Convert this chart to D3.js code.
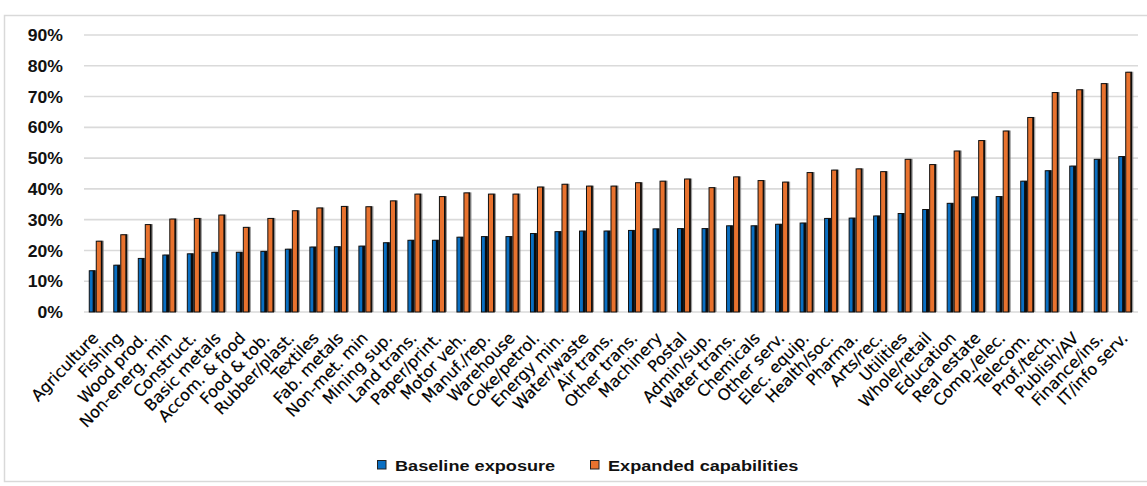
<!DOCTYPE html>
<html>
<head>
<meta charset="utf-8">
<script src="https://cdn.jsdelivr.net/npm/d3@7/dist/d3.min.js"></script>
<style>
  html, body { margin: 0; padding: 0; background: #fff; }
  svg { display: block; }
</style>
</head>
<body>
<svg id="chart" width="1147" height="486"></svg>
<script>
// Sector labels, sorted by baseline exposure
const categories = [
  "Agriculture", "Fishing", "Wood prod.", "Non-energ. min", "Construct.",
  "Basic metals", "Accom. & food", "Food & tob.", "Rubber/plast.", "Textiles",
  "Fab. metals", "Non-met. min", "Mining sup.", "Land trans.", "Paper/print.",
  "Motor veh.", "Manuf./rep.", "Warehouse", "Coke/petrol.", "Energy min.",
  "Water/waste", "Air trans.", "Other trans.", "Machinery", "Postal",
  "Admin/sup.", "Water trans.", "Chemicals", "Other serv.", "Elec. equip.",
  "Health/soc.", "Pharma.", "Arts/rec.", "Utilities", "Whole/retail",
  "Education", "Real estate", "Comp./elec.", "Telecom.", "Prof./tech.",
  "Publish/AV", "Finance/ins.", "IT/info serv."
];

const baselineExposure = [
  0.134, 0.152, 0.174, 0.185, 0.189, 0.194, 0.194, 0.197, 0.204, 0.211,
  0.212, 0.214, 0.225, 0.233, 0.233, 0.243, 0.245, 0.245, 0.255, 0.261,
  0.263, 0.263, 0.265, 0.270, 0.271, 0.271, 0.280, 0.280, 0.285, 0.289,
  0.304, 0.305, 0.312, 0.320, 0.333, 0.353, 0.374, 0.375, 0.425, 0.459,
  0.474, 0.496, 0.505
];

const expandedCapabilities = [
  0.230, 0.251, 0.284, 0.302, 0.304, 0.315, 0.275, 0.304, 0.329, 0.338,
  0.343, 0.342, 0.361, 0.383, 0.375, 0.387, 0.383, 0.383, 0.406, 0.415,
  0.409, 0.409, 0.420, 0.425, 0.432, 0.404, 0.439, 0.427, 0.422, 0.453,
  0.461, 0.465, 0.456, 0.496, 0.479, 0.523, 0.557, 0.588, 0.632, 0.713,
  0.722, 0.742, 0.779
];

const seriesNames = ["Baseline exposure", "Expanded capabilities"];
const seriesColors = ["#0a6fc2", "#e8722e"];
const yTicks = [0, 0.1, 0.2, 0.3, 0.4, 0.5, 0.6, 0.7, 0.8, 0.9];

const rows = categories.map((c, i) => ({
  category: c,
  values: [baselineExposure[i], expandedCapabilities[i]]
}));

const svg = d3.select("#chart");

// outer frame
svg.append("rect")
  .attr("x", 4.5).attr("y", 15.5)
  .attr("width", 1150).attr("height", 466)
  .attr("fill", "none")
  .attr("stroke", "#d9d9d9")
  .attr("stroke-width", 1.5);

const plot = { left: 84, right: 1138, top: 35, bottom: 312 };

const x0 = d3.scaleBand()
  .domain(categories)
  .range([plot.left, plot.right])
  .paddingInner(0.43)
  .paddingOuter(0.215);

const x1 = d3.scaleBand()
  .domain(d3.range(seriesNames.length))
  .range([0, x0.bandwidth()]);

const y = d3.scaleLinear()
  .domain([0, 0.9])
  .range([plot.bottom, plot.top]);

// horizontal gridlines
svg.append("g")
  .selectAll("line")
  .data(yTicks)
  .join("line")
  .attr("x1", plot.left)
  .attr("x2", plot.right)
  .attr("y1", d => y(d))
  .attr("y2", d => y(d))
  .attr("stroke", "#dadada")
  .attr("stroke-width", 1.6);

// y-axis tick labels
const yAxis = d3.axisLeft(y)
  .tickValues(yTicks)
  .tickFormat(d3.format(".0%"))
  .tickSize(0)
  .tickPadding(0);

const yg = svg.append("g")
  .attr("transform", `translate(63,0)`)
  .call(yAxis);
yg.select(".domain").remove();
yg.selectAll("text")
  .attr("font-family", "'Liberation Sans', Arial, sans-serif")
  .attr("font-weight", "bold")
  .attr("font-size", 16)
  .attr("fill", "#111")
  .attr("dy", "0.35em")
  .style("transform-box", "fill-box")
  .style("transform-origin", "right center")
  .style("transform", "scaleX(1.1)");

// bars
const groups = svg.append("g")
  .selectAll("g")
  .data(rows)
  .join("g")
  .attr("transform", d => `translate(${x0(d.category)},0)`);

const barW = x1.bandwidth();

const bars = groups.selectAll("g.bar")
  .data(d => d.values.map((v, k) => ({ v, k })))
  .join("g")
  .attr("class", "bar");

// soft drop shadow
bars.append("rect")
  .attr("x", d => x1(d.k) + 1.2)
  .attr("y", d => y(d.v) - 0.5)
  .attr("width", barW - 0.6)
  .attr("height", d => y(0) - y(d.v) + 0.5)
  .attr("fill", "#7a7a7a")
  .attr("opacity", 0.75);

// bar body
bars.append("rect")
  .attr("x", d => x1(d.k))
  .attr("y", d => y(d.v))
  .attr("width", barW - 1.2)
  .attr("height", d => y(0) - y(d.v))
  .attr("fill", d => seriesColors[d.k])
  .attr("stroke", "#111")
  .attr("stroke-width", 1);

// dark right edge
bars.append("rect")
  .attr("x", d => x1(d.k) + barW - (d.k === 0 ? 3.6 : 2.4))
  .attr("y", d => y(d.v))
  .attr("width", d => d.k === 0 ? 2.4 : 1.2)
  .attr("height", d => y(0) - y(d.v))
  .attr("fill", "#0b0b0b");

// category labels, rotated
const xg = svg.append("g");
xg.selectAll("text")
  .data(categories)
  .join("text")
  .attr("transform", d => `translate(${x0(d) + x0.bandwidth() / 2 + 3},${339}) rotate(-46)`)
  .attr("text-anchor", "end")
  .attr("font-family", "'DejaVu Sans', Verdana, sans-serif")
  .attr("font-size", 16)
  .attr("fill", "#000")
  .attr("stroke", "#000")
  .attr("stroke-width", 0.2)
  .text(d => d);

// legend
const legend = svg.append("g");
const legendX = [377, 590];
seriesNames.forEach((name, k) => {
  legend.append("rect")
    .attr("x", legendX[k] + 0.5)
    .attr("y", 460.5)
    .attr("width", 8.5)
    .attr("height", 8.5)
    .attr("fill", seriesColors[k])
    .attr("stroke", "#222")
    .attr("stroke-width", 1);
  legend.append("text")
    .attr("x", legendX[k] + 18)
    .attr("y", 471)
    .attr("font-family", "'Liberation Sans', Arial, sans-serif")
    .attr("font-weight", "bold")
    .attr("font-size", 15.5)
    .attr("fill", "#111")
    .style("transform-box", "fill-box")
    .style("transform-origin", "left center")
    .style("transform", "scaleX(1.17)")
    .text(name);
});
</script>
</body>
</html>
